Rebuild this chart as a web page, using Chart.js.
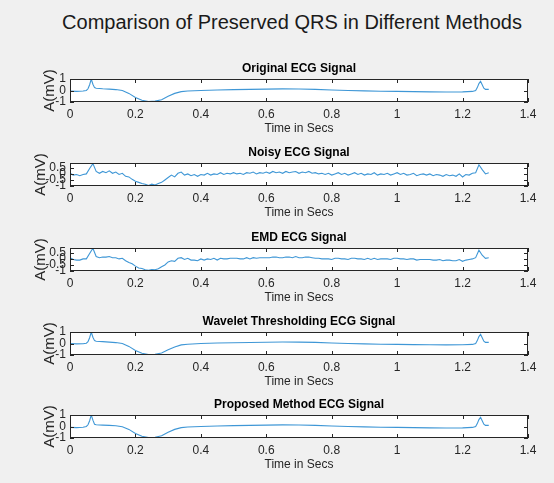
<!DOCTYPE html>
<html>
<head>
<meta charset="utf-8">
<script src="https://cdn.jsdelivr.net/npm/chart.js@4"></script>
<style>
    body { margin: 0; background: #f0f0f0; width: 554px; height: 483px; position: relative; overflow: hidden; font-family: "Liberation Sans", Arial, sans-serif; }
    #titulo { position: absolute; top: 10px; left: 0; width: 584px; text-align: center; font-size: 20px; line-height: 24px; color: #1a1a1a; }
    canvas { position: absolute; left: 0; }
</style>
</head>
<body>
<div id="titulo">Comparison of Preserved QRS in Different Methods</div>
<canvas id="p1" width="554" height="79" style="top:59px"></canvas>
<canvas id="p2" width="554" height="79" style="top:143px"></canvas>
<canvas id="p3" width="554" height="79" style="top:228px"></canvas>
<canvas id="p4" width="554" height="79" style="top:312px"></canvas>
<canvas id="p5" width="554" height="79" style="top:395px"></canvas>
<script>
// Eixos
const xTicks = [0, 0.2, 0.4, 0.6, 0.8, 1, 1.2, 1.4];
const yTicksLimpo = [-1, 0, 1];
const yTicksRuido = [-1, -0.5, 0, 0.5];

// Sinal limpo (amostragem irregular, mais densa nos picos)
const tempoLimpo = [0, 0.02, 0.04, 0.05, 0.055, 0.06, 0.065, 0.07, 0.075, 0.08, 0.1, 0.12, 0.14, 0.16, 0.18,
    0.2, 0.22, 0.24, 0.26, 0.28, 0.3, 0.32, 0.34, 0.36, 0.4, 0.45, 0.5, 0.55, 0.6, 0.65, 0.7, 0.75, 0.8, 0.85,
    0.9, 0.95, 1.0, 1.05, 1.1, 1.15, 1.2, 1.23, 1.24, 1.245, 1.25, 1.255, 1.26, 1.265, 1.27, 1.28];
const ecgOriginal = [-0.05, -0.08, -0.05, 0.0, 0.15, 0.5, 1.0, 0.55, 0.25, 0.2, 0.15, 0.12, 0.08, 0.0, -0.25,
    -0.6, -0.85, -0.95, -0.92, -0.8, -0.5, -0.25, -0.1, -0.05, 0.0, 0.05, 0.08, 0.1, 0.12, 0.14, 0.13, 0.1, 0.05, 0.0,
    -0.03, -0.06, -0.08, -0.1, -0.12, -0.13, -0.12, -0.08, 0.0, 0.25, 0.6, 0.8, 0.5, 0.2, 0.1, 0.1];
const ecgWavelet = [0.0, -0.03, -0.02, 0.02, 0.15, 0.5, 1.0, 0.55, 0.25, 0.2, 0.16, 0.12, 0.08, 0.0, -0.25,
    -0.6, -0.85, -0.95, -0.93, -0.82, -0.55, -0.3, -0.12, -0.06, 0.0, 0.04, 0.07, 0.09, 0.11, 0.13, 0.12, 0.1, 0.05, 0.0,
    -0.03, -0.06, -0.08, -0.1, -0.11, -0.12, -0.11, -0.08, 0.0, 0.25, 0.6, 0.8, 0.5, 0.2, 0.1, 0.1];
const ecgProposto = [-0.08, -0.1, -0.06, 0.0, 0.15, 0.5, 1.0, 0.55, 0.2, 0.15, 0.12, 0.1, 0.06, -0.02, -0.25,
    -0.6, -0.85, -0.95, -0.93, -0.8, -0.5, -0.25, -0.1, -0.05, 0.0, 0.05, 0.08, 0.1, 0.12, 0.14, 0.13, 0.1, 0.05, 0.0,
    -0.03, -0.06, -0.08, -0.1, -0.12, -0.13, -0.12, -0.08, 0.0, 0.25, 0.6, 0.8, 0.5, 0.2, 0.1, 0.1];

// Sinal ruidoso (fs = 100 Hz)
const tempoRuido = Array.from({ length: 129 }, (_, i) => i / 100);
const ecgRuidoso = [0.05, -0.1, -0.05, -0.15, -0.05, 0.0, 0.45, 0.85, 0.2, 0.05,
    0.2, 0.1, 0.25, 0.05, 0.15, -0.05, 0.05, -0.2, -0.25, -0.45,
    -0.6, -0.7, -0.8, -0.85, -0.95, -0.85, -0.92, -0.8, -0.7, -0.5,
    -0.3, -0.1, -0.25, 0.05, 0.15, -0.1, 0.0, -0.15, -0.05, -0.2,
    -0.05, -0.1, 0.05, -0.1, 0.0, -0.05, 0.1, -0.05, 0.05, 0.0,
    0.1, 0.0, 0.05, -0.05, 0.1, 0.05, 0.15, 0.0, 0.1, 0.05,
    0.15, 0.05, 0.2, 0.1, 0.15, 0.05, 0.2, 0.1, 0.15, 0.2,
    0.05, 0.15, 0.1, 0.2, 0.05, 0.1, 0.0, 0.05, -0.05, 0.05,
    -0.1, 0.0, 0.1, -0.05, 0.05, -0.1, 0.0, 0.1, -0.05, 0.05,
    -0.1, 0.0, -0.05, 0.1, -0.1, 0.0, -0.05, 0.05, -0.1, 0.0,
    0.1, -0.05, 0.05, -0.1, -0.05, 0.05, -0.15, -0.05, 0.0, -0.1,
    0.0, -0.15, -0.05, -0.1, -0.2, -0.05, -0.15, -0.1, -0.2, 0.0,
    -0.25, -0.05, -0.1, 0.05, 0.1, 0.75, 0.35, 0.0, 0.1];
const ecgEMD = [0.1, -0.05, -0.1, -0.1, 0.0, 0.0, 0.45, 0.88, 0.2, 0.1,
    0.15, 0.15, 0.2, 0.1, 0.1, 0.0, 0.05, -0.15, -0.3, -0.4,
    -0.6, -0.75, -0.8, -0.9, -0.95, -0.88, -0.9, -0.82, -0.65, -0.5,
    -0.25, -0.15, -0.2, 0.05, 0.1, -0.05, 0.05, -0.1, -0.1, -0.15,
    0.0, -0.1, 0.0, -0.05, 0.05, -0.1, 0.05, 0.0, 0.0, 0.05,
    0.05, 0.05, 0.0, 0.0, 0.1, 0.0, 0.1, 0.05, 0.1, 0.1,
    0.1, 0.1, 0.15, 0.15, 0.1, 0.1, 0.15, 0.15, 0.1, 0.2,
    0.1, 0.1, 0.15, 0.15, 0.1, 0.05, 0.05, 0.0, 0.0, 0.0,
    -0.05, 0.05, 0.05, 0.0, 0.0, -0.05, 0.05, 0.05, 0.0, 0.0,
    -0.05, 0.05, -0.05, 0.05, -0.05, 0.0, 0.0, 0.0, -0.05, 0.05,
    0.05, 0.0, 0.0, -0.05, 0.0, 0.0, -0.1, -0.05, -0.05, -0.05,
    -0.05, -0.1, -0.1, -0.05, -0.15, -0.1, -0.1, -0.15, -0.15, -0.05,
    -0.2, -0.1, -0.05, 0.0, 0.1, 0.72, 0.3, 0.05, 0.1];

const fonte = '"Liberation Sans", Arial, sans-serif';
const corLinha = '#3f97d6';

// Moldura da área do gráfico com marcas de escala para dentro (estilo MATLAB)
const moldura = {
    id: 'moldura',
    beforeDatasetsDraw(chart) {
        const { ctx, chartArea: a } = chart;
        ctx.save();
        ctx.fillStyle = '#ffffff';
        ctx.fillRect(a.left, a.top, a.right - a.left, a.bottom - a.top);
        ctx.restore();
    },
    afterDatasetsDraw(chart) {
        const { ctx, chartArea: a, scales: { x, y } } = chart;
        ctx.save();
        ctx.strokeStyle = '#262626';
        ctx.lineWidth = 1;
        ctx.beginPath();
        x.ticks.forEach(t => {
            const px = Math.round(x.getPixelForValue(t.value)) + 0.5;
            ctx.moveTo(px, a.bottom); ctx.lineTo(px, a.bottom - 4);
            ctx.moveTo(px, a.top); ctx.lineTo(px, a.top + 4);
        });
        y.ticks.forEach(t => {
            const py = Math.round(y.getPixelForValue(t.value)) + 0.5;
            ctx.moveTo(a.left, py); ctx.lineTo(a.left + 4, py);
            ctx.moveTo(a.right, py); ctx.lineTo(a.right - 4, py);
        });
        ctx.stroke();
        ctx.strokeRect(a.left + 0.5, a.top + 0.5, a.right - a.left - 1, a.bottom - a.top - 1);
        ctx.restore();
    }
};

// margemEsq: posição do rótulo "A(mV)" (mais à esquerda quando os rótulos dos ticks são largos)
function criarPainel(id, titulo, tempo, valores, yMin, yMax, yTicks, margemEsq) {
    new Chart(document.getElementById(id), {
        type: 'line',
        data: {
            datasets: [{
                data: tempo.map((t, i) => ({ x: t, y: valores[i] })),
                borderColor: corLinha,
                borderWidth: 1.1,
                pointRadius: 0,
                tension: 0,
                fill: false
            }]
        },
        options: {
            responsive: false,
            animation: false,
            layout: { padding: { left: margemEsq, right: 26, top: 0, bottom: 0 } },
            plugins: {
                legend: { display: false },
                tooltip: { enabled: false },
                title: {
                    display: true, text: titulo, fullSize: false, color: '#000',
                    font: { size: 12, weight: 'bold', family: fonte },
                    padding: { top: 2, bottom: 3.6 }
                }
            },
            scales: {
                x: {
                    type: 'linear', min: 0, max: 1.4,
                    afterBuildTicks: s => { s.ticks = xTicks.map(v => ({ value: v })); },
                    afterFit: s => { s.height = 36; },
                    grid: { display: false, drawTicks: false },
                    border: { display: false },
                    ticks: { padding: 5, autoSkip: false, maxRotation: 0, color: '#262626',
                        font: { size: 12, family: fonte }, callback: v => String(v) },
                    title: { display: true, text: 'Time in Secs', color: '#262626',
                        font: { size: 12, family: fonte }, padding: { top: 0, bottom: 2 } }
                },
                y: {
                    min: yMin, max: yMax,
                    afterBuildTicks: s => { s.ticks = yTicks.map(v => ({ value: v })); },
                    afterFit: s => { s.width = 70 - margemEsq; },
                    grid: { display: false, drawTicks: false },
                    border: { display: false },
                    ticks: { padding: 4, autoSkip: false, color: '#262626',
                        font: { size: 12, family: fonte }, callback: v => String(v) },
                    title: { display: true, text: 'A(mV)', color: '#262626',
                        font: { size: 15, family: fonte }, padding: 0 }
                }
            }
        },
        plugins: [moldura]
    });
}

criarPainel('p1', 'Original ECG Signal', tempoLimpo, ecgOriginal, -1, 1, yTicksLimpo, 41);
criarPainel('p2', 'Noisy ECG Signal', tempoRuido, ecgRuidoso, -1, 0.9, yTicksRuido, 32);
criarPainel('p3', 'EMD ECG Signal', tempoRuido, ecgEMD, -1, 0.9, yTicksRuido, 32);
criarPainel('p4', 'Wavelet Thresholding ECG Signal', tempoLimpo, ecgWavelet, -1, 1, yTicksLimpo, 41);
criarPainel('p5', 'Proposed Method ECG Signal', tempoLimpo, ecgProposto, -1, 1, yTicksLimpo, 41);
</script>
</body>
</html>
